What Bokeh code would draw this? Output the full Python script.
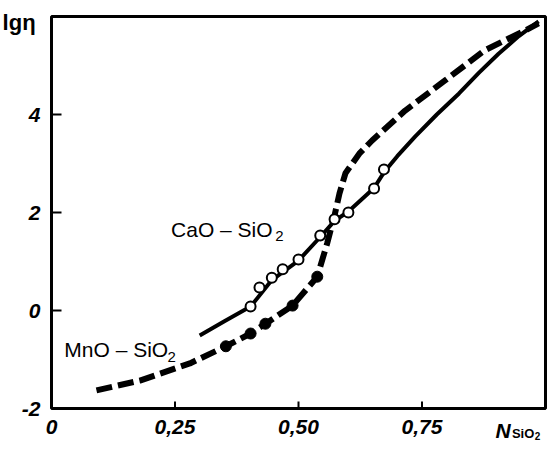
import math
from bokeh.plotting import figure
from bokeh.models import Range1d
from bokeh.core.properties import value
from bokeh.embed import file_html
from bokeh.resources import INLINE

# CaO-SiO2 (solid curve, open circles)
cao_line_x = [0.300, 0.350, 0.403, 0.446, 0.500, 0.544, 0.573, 0.601, 0.653, 0.673, 0.700, 0.736, 0.780, 0.825, 0.865, 0.905, 0.946, 0.986]
cao_line_y = [-0.51, -0.22, 0.08, 0.62, 1.02, 1.50, 1.83, 2.02, 2.50, 2.82, 3.15, 3.55, 4.00, 4.43, 4.85, 5.24, 5.60, 5.90]
cao_pts_x = [0.403, 0.421, 0.446, 0.468, 0.500, 0.544, 0.573, 0.601, 0.653, 0.673]
cao_pts_y = [0.08, 0.47, 0.67, 0.84, 1.04, 1.53, 1.86, 2.00, 2.49, 2.88]

# MnO-SiO2 (dashed curve, filled circles)
mno_line_x = [0.091, 0.179, 0.280, 0.353, 0.403, 0.433, 0.488, 0.538, 0.558, 0.573, 0.583, 0.595, 0.623, 0.649, 0.716, 0.796, 0.877, 0.958, 0.986]
mno_line_y = [-1.63, -1.43, -1.08, -0.73, -0.47, -0.27, 0.10, 0.69, 1.37, 1.94, 2.39, 2.80, 3.20, 3.47, 4.08, 4.69, 5.31, 5.71, 5.86]
mno_pts_x = [0.353, 0.403, 0.433, 0.488, 0.538]
mno_pts_y = [-0.73, -0.47, -0.27, 0.10, 0.69]

x_ticks = [0, 0.25, 0.5, 0.75]
x_tick_labels = ["0", "0,25", "0,50", "0,75"]
y_ticks = [-2, 0, 2, 4]
y_tick_labels = ["-2", "0", "2", "4"]

# axis box (data limits of the drawn frame)
X0, X1 = 0.0, 1.0
Y0, Y1 = -2.0, 6.0

FONT = "Liberation Sans"
W, H = 551, 441
PAD_L, PAD_R, PAD_T, PAD_B = 51, 6, 16, 33
sx = (W - PAD_L - PAD_R) / (X1 - X0)
sy = (H - PAD_T - PAD_B) / (Y1 - Y0)

p = figure(width=W, height=H, output_backend="svg", toolbar_location=None,
           x_range=Range1d(X0 - PAD_L / sx, X1 + PAD_R / sx),
           y_range=Range1d(Y0 - PAD_B / sy, Y1 + PAD_T / sy),
           min_border=0, min_border_left=0, min_border_right=0,
           min_border_top=0, min_border_bottom=0)
p.axis.visible = False
p.grid.visible = False
p.outline_line_color = None
p.background_fill_color = "white"
p.border_fill_color = "white"

# frame
p.quad(left=[X0], right=[X1], bottom=[Y0], top=[Y1], fill_color=None,
       line_color="black", line_width=3)

# ticks (inward)
xt = [t for t in x_ticks if t > X0]
p.ray(x=xt, y=[Y0] * len(xt), length=7, length_units="screen", angle=math.pi / 2,
      line_color="black", line_width=2)
yt = [t for t in y_ticks if t > Y0]
p.ray(x=[X0] * len(yt), y=yt, length=10, length_units="screen", angle=0,
      line_color="black", line_width=2)

# tick labels
p.text(x=x_ticks, y=[Y0] * len(x_ticks), text=x_tick_labels, y_offset=11,
       text_align="center", text_baseline="top", text_font=value(FONT),
       text_font_style="bold italic", text_font_size="21px", text_color="black")
p.text(x=[X0] * len(y_ticks), y=y_ticks, text=y_tick_labels, x_offset=-11,
       text_align="right", text_baseline="middle", text_font=value(FONT),
       text_font_style="bold italic", text_font_size="21px", text_color="black")

# curves and points
p.line(cao_line_x, cao_line_y, line_color="black", line_width=4)
p.line(mno_line_x, mno_line_y, line_color="black", line_width=6, line_dash="16 6")
p.scatter(cao_pts_x, cao_pts_y, marker="circle", size=10, fill_color="white",
          line_color="black", line_width=2)
p.scatter(mno_pts_x, mno_pts_y, marker="circle", size=11, fill_color="black",
          line_color="black", line_width=1)

def lab(x, y, text, size, style="normal"):
    p.text(x=[x], y=[y], text=[text], text_font=value(FONT), text_font_size=size,
           text_font_style=style, text_color="black",
           text_baseline="alphabetic", text_align="left")

lab(0.242, 1.65, "CaO \u2013 SiO", "21px")
lab(0.453, 1.53, "2", "15px")
lab(0.026, -0.80, "MnO \u2013 SiO", "21px")
lab(0.235, -0.94, "2", "15px")
lab(-0.099, 5.88, "lg\u03b7", "22px", "bold")
lab(0.899, -2.44, "N", "21px", "bold italic")
lab(0.932, -2.52, "SiO", "13px", "bold")
lab(0.978, -2.57, "2", "10px", "bold")

open("out.html", "w").write(file_html(p, INLINE))
